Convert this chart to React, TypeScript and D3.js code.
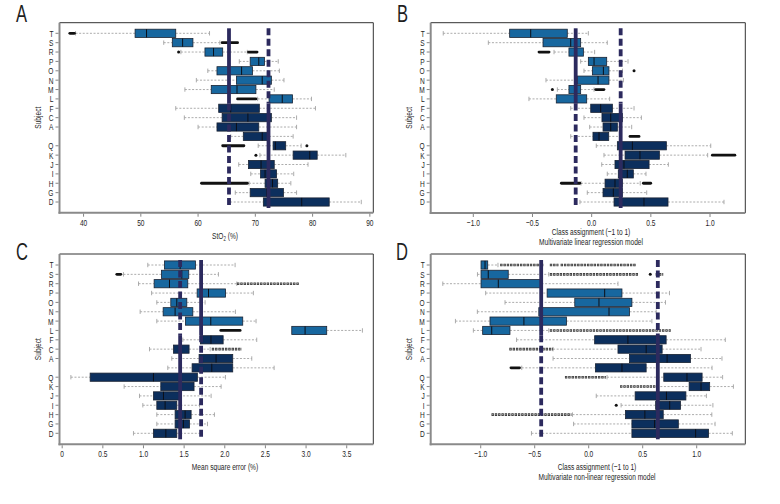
import React from "react";
import * as d3 from "d3";

// ---------- data ----------
const subjects = ["T", "S", "R", "P", "O", "N", "M", "L", "F", "C", "A", "", "Q", "K", "J", "I", "H", "G", "D"];
const LIGHT_ROWS = 8; // first 8 rows belong to the light group

type Stat = [number, number, number, number, number]; // lo, q1, median, q3, hi

const statsA: Stat[] = [
  [38.6, 49.0, 51.0, 56.1, 62.0],
  [54.0, 55.5, 57.3, 59.1, 63.8],
  [57.0, 61.2, 62.7, 64.3, 68.6],
  [67.2, 69.1, 70.6, 71.6, 74.0],
  [61.7, 63.3, 67.6, 69.5, 74.2],
  [59.7, 66.7, 71.2, 72.8, 75.0],
  [57.7, 62.3, 66.8, 70.1, 73.3],
  [70.4, 72.4, 74.7, 76.5, 79.8],
  [56.1, 63.6, 65.7, 70.7, 80.5],
  [57.6, 64.2, 68.7, 72.8, 77.2],
  [60.0, 63.3, 66.7, 70.6, 77.2],
  [65.7, 67.9, 71.2, 72.4, 76.6],
  [70.5, 73.1, 73.5, 75.3, 78.0],
  [70.8, 76.6, 79.5, 80.8, 85.8],
  [67.1, 68.8, 71.0, 73.3, 79.2],
  [69.2, 70.9, 71.7, 73.7, 76.7],
  [68.9, 71.7, 73.0, 73.9, 76.2],
  [66.5, 69.1, 72.0, 74.9, 77.2],
  [65.6, 71.4, 78.1, 82.9, 88.5],
];
const pointsA: [number, number][] = [[2, 56.6], [12, 79.0], [13, 70.1]];
const runsA: [number, number, number, number][] = [
  [0, 37.6, 38.4, 0], [1, 64.2, 66.9, 0], [2, 68.8, 70.3, 0], [7, 66.9, 70.1, 0],
  [12, 64.3, 68.0, 0], [16, 60.6, 68.6, 0],
];
const linesA = [65.4, 72.3];
const ticksA = [40, 50, 60, 70, 80, 90];

const statsB: Stat[] = [
  [-1.254, -0.693, -0.515, -0.206, -0.028],
  [-0.873, -0.411, -0.177, -0.093, 0.132],
  [-0.318, -0.192, -0.135, -0.07, 0.025],
  [-0.093, -0.028, 0.02, 0.127, 0.307],
  [-0.065, 0.006, 0.099, 0.146, 0.26],
  [-0.386, -0.121, 0.054, 0.146, 0.268],
  [-0.29, -0.192, -0.135, -0.093, 0.02],
  [-0.53, -0.299, -0.135, -0.042, 0.152],
  [-0.177, -0.008, 0.076, 0.175, 0.358],
  [-0.065, 0.087, 0.161, 0.259, 0.42],
  [-0.017, 0.096, 0.161, 0.217, 0.338],
  [-0.177, 0.011, 0.062, 0.144, 0.245],
  [0.039, 0.217, 0.344, 0.631, 1.006],
  [0.104, 0.282, 0.408, 0.572, 0.98],
  [0.085, 0.197, 0.273, 0.485, 0.648],
  [0.132, 0.225, 0.301, 0.352, 0.459],
  [-0.09, 0.113, 0.197, 0.259, 0.41],
  [-0.037, 0.096, 0.183, 0.259, 0.465],
  [-0.099, 0.189, 0.442, 0.645, 1.118],
];
const pointsB: [number, number][] = [[4, 0.358], [6, -0.332]];
const runsB: [number, number, number, number][] = [
  [2, -0.445, -0.36, 0], [6, 0.034, 0.104, 0], [11, 0.324, 0.4, 0], [13, 1.02, 1.21, 0],
  [16, -0.256, -0.1, 0], [16, 0.437, 0.499, 0],
];
const linesB = [-0.135, 0.245];
const ticksB = [-1, -0.5, 0, 0.5, 1];

const statsC: Stat[] = [
  [1.053, 1.258, 1.451, 1.639, 2.127],
  [0.754, 1.221, 1.471, 1.557, 1.922],
  [0.939, 1.131, 1.32, 1.545, 2.148],
  [1.1, 1.66, 1.8, 2.01, 2.352],
  [1.164, 1.336, 1.41, 1.533, 1.758],
  [0.959, 1.242, 1.389, 1.607, 2.131],
  [1.164, 1.516, 1.828, 2.221, 2.385],
  [2.824, 2.824, 2.988, 3.254, 3.693],
  [1.484, 1.7, 1.83, 1.98, 2.393],
  [1.074, 1.369, 1.45, 1.561, 1.82],
  [1.348, 1.684, 1.893, 2.098, 2.332],
  [1.299, 1.598, 1.84, 2.098, 2.607],
  [0.107, 0.344, 1.123, 1.663, 2.008],
  [0.762, 1.213, 1.45, 1.622, 1.955],
  [0.951, 1.123, 1.246, 1.443, 1.832],
  [0.992, 1.164, 1.266, 1.41, 1.689],
  [1.164, 1.389, 1.512, 1.586, 1.873],
  [1.164, 1.389, 1.492, 1.566, 1.787],
  [0.877, 1.123, 1.275, 1.41, 1.717],
];
const pointsC: [number, number][] = [];
const runsC: [number, number, number, number][] = [
  [1, 0.672, 0.721, 0], [2, 2.15, 2.914, 1], [7, 1.951, 2.189, 0], [9, 1.84, 2.209, 1],
];
const linesC = [1.709, 1.451];
const ticksC = [0, 0.5, 1, 1.5, 2, 2.5, 3, 3.5];

const statsD: Stat[] = [
  [-0.997, -0.997, -0.96, -0.935, -0.84],
  [-1.03, -0.997, -0.93, -0.745, -0.37],
  [-1.351, -0.997, -0.837, -0.437, 0.271],
  [-0.954, -0.385, 0.148, 0.308, 0.748],
  [-0.775, -0.129, 0.095, 0.4, 0.711],
  [-1.031, -0.462, 0.188, 0.378, 0.625],
  [-1.234, -0.914, -0.6, -0.206, 0.585],
  [-1.068, -0.982, -0.898, -0.729, -0.37],
  [-0.668, 0.055, 0.363, 0.717, 1.265],
  [-0.33, 0.271, 0.532, 0.68, 1.04],
  [-0.33, 0.378, 0.726, 0.942, 1.234],
  [-0.62, 0.062, 0.308, 0.532, 1.142],
  [0.17, 0.695, 0.91, 1.05, 1.24],
  [0.63, 0.93, 1.04, 1.12, 1.34],
  [0.07, 0.43, 0.72, 0.9, 1.09],
  [0.3, 0.62, 0.75, 0.85, 1.15],
  [-0.15, 0.34, 0.52, 0.69, 1.14],
  [-0.14, 0.4, 0.61, 0.83, 1.17],
  [-0.53, 0.4, 0.99, 1.11, 1.33],
];
const pointsD: [number, number][] = [[15, 0.255], [1, 0.57]];
const runsD: [number, number, number, number][] = [
  [0, -0.82, -0.42, 1], [0, -0.36, -0.28, 1], [0, -0.26, 0.44, 1],
  [1, -0.36, 0.46, 1], [1, 0.62, 0.69, 1], [7, -0.36, 0.76, 1],
  [9, -0.735, -0.33, 1], [11, -0.72, -0.64, 0], [12, -0.22, 0.16, 1],
  [13, 0.29, 0.62, 1], [16, -0.9, -0.16, 1],
];
const linesD = [-0.44, 0.64];
const ticksD = [-1, -0.5, 0, 0.5, 1];

// ---------- styles ----------
const FONT = "'Liberation Sans', Arial, sans-serif";
const SX = 0.68; // horizontal condensing of the label font
const FS = 9.7;
const LIGHT = "#17679f";
const DARK = "#0c2f5d";
const BOX_STROKE = "#1a2333";
const LINE = "#2c2a5e";
const WHISK = "#a3a3a3";

function Txt({ x, y, anchor = "start", size = FS, sx = SX, rotate = 0, children }: {
  x: number; y: number; anchor?: string; size?: number; sx?: number; rotate?: number; children: React.ReactNode;
}) {
  return (
    <text transform={`translate(${x},${y}) rotate(${rotate}) scale(${sx},1)`} textAnchor={anchor}
      fontFamily={FONT} fontSize={size} fill="#1e1e1e">{children}</text>
  );
}

interface PanelCfg {
  letter: string;
  letterX: number;
  letterY: number;
  stats: Stat[];
  points: [number, number][];
  runs: [number, number, number, number][];
  lines: number[];
  ticks: number[];
  fmt: (v: number) => string;
  domain: [number, number];
  fx0: number; fx1: number; fy0: number; fy1: number;
  ry0: number; ry1: number;
  titles: React.ReactNode[];
  titleX: number;
  titleY: number[];
}

function Panel({ c }: { c: PanelCfg }) {
  const x = d3.scaleLinear().domain(c.domain).range([c.fx0, c.fx1]);
  const y = d3.scaleLinear().domain([0, subjects.length - 1]).range([c.ry0, c.ry1]);
  const bh = 8.2;
  const split = (y(LIGHT_ROWS - 1) + y(LIGHT_ROWS)) / 2;
  const top = y(0) - 5;
  const bot = y(subjects.length - 1) + 6;
  return (
    <g>
      <Txt x={c.letterX} y={c.letterY} size={23} sx={0.72}>{c.letter}</Txt>
      {/* frame */}
      <line x1={c.fx0} x2={c.fx1} y1={c.fy0} y2={c.fy0} stroke="#333" strokeWidth={1} />
      <line x1={c.fx1} x2={c.fx1} y1={c.fy0} y2={c.fy1} stroke="#333" strokeWidth={1} />
      <line x1={c.fx0} x2={c.fx0} y1={c.fy0} y2={c.fy1 + 1} stroke="#8a8a8a" strokeWidth={2} />
      <line x1={c.fx0 - 1} x2={c.fx1} y1={c.fy1} y2={c.fy1} stroke="#8a8a8a" strokeWidth={2} />
      {/* y ticks */}
      {subjects.map((s, i) => s ? (
        <g key={"yt" + i}>
          <line x1={c.fx0 - 4} x2={c.fx0 - 1} y1={y(i)} y2={y(i)} stroke="#666" strokeWidth={0.8} />
          <Txt x={c.fx0 - 6} y={y(i) + 3.4} anchor="end">{s}</Txt>
        </g>
      ) : null)}
      <Txt x={c.fx0 - 19} y={(c.fy0 + c.fy1) / 2} anchor="middle" rotate={-90}>Subject</Txt>
      {/* x ticks */}
      {c.ticks.map((t) => (
        <g key={"xt" + t}>
          <line x1={x(t)} x2={x(t)} y1={c.fy1 + 1} y2={c.fy1 + 4} stroke="#666" strokeWidth={0.8} />
          <Txt x={x(t)} y={c.fy1 + 12.8} anchor="middle">{c.fmt(t)}</Txt>
        </g>
      ))}
      {c.titles.map((t, i) => (
        <Txt key={"ti" + i} x={c.titleX} y={c.titleY[i]} anchor="middle">{t}</Txt>
      ))}
      {/* whiskers + boxes */}
      {c.stats.map((s, i) => {
        const [lo, q1, md, q3, hi] = s;
        const yy = y(i);
        const fill = i < LIGHT_ROWS ? LIGHT : DARK;
        return (
          <g key={"b" + i}>
            {lo < q1 && <line x1={x(lo)} x2={x(q1)} y1={yy} y2={yy} stroke={WHISK} strokeWidth={0.9} strokeDasharray="2,1.6" />}
            {hi > q3 && <line x1={x(q3)} x2={x(hi)} y1={yy} y2={yy} stroke={WHISK} strokeWidth={0.9} strokeDasharray="2,1.6" />}
            {lo < q1 && <line x1={x(lo)} x2={x(lo)} y1={yy - 2.2} y2={yy + 2.2} stroke={WHISK} strokeWidth={0.9} />}
            {hi > q3 && <line x1={x(hi)} x2={x(hi)} y1={yy - 2.2} y2={yy + 2.2} stroke={WHISK} strokeWidth={0.9} />}
            <rect x={x(q1)} y={yy - bh / 2} width={Math.max(1, x(q3) - x(q1))} height={bh} fill={fill} stroke={BOX_STROKE} strokeWidth={0.8} />
            <line x1={x(md)} x2={x(md)} y1={yy - bh / 2} y2={yy + bh / 2} stroke="#0b0f18" strokeWidth={1} />
          </g>
        );
      })}
      {/* outliers */}
      {c.runs.map(([r, a, b, st], i) => st === 0 ? (
        <line key={"r" + i} x1={x(a)} x2={x(b)} y1={y(r)} y2={y(r)} stroke="#111" strokeWidth={2.8} strokeLinecap="round" />
      ) : (
        <g key={"r" + i}>
          <line x1={x(a)} x2={x(b)} y1={y(r)} y2={y(r)} stroke="#3a3a3a" strokeWidth={2.6} strokeDasharray="2.4,0.9" />
          <line x1={x(a)} x2={x(b)} y1={y(r)} y2={y(r)} stroke="#ddd" strokeWidth={0.7} strokeDasharray="1,2.3" strokeDashoffset={-0.7} />
        </g>
      ))}
      {c.points.map(([r, v], i) => (
        <circle key={"p" + i} cx={x(v)} cy={y(r)} r={1.5} fill="#111" />
      ))}
      {/* group centre lines */}
      <line x1={x(c.lines[0])} x2={x(c.lines[0])} y1={top} y2={split} stroke={LINE} strokeWidth={3.8} />
      <line x1={x(c.lines[0])} x2={x(c.lines[0])} y1={split} y2={bot} stroke={LINE} strokeWidth={3.8} strokeDasharray="7,3.5" />
      <line x1={x(c.lines[1])} x2={x(c.lines[1])} y1={top} y2={split} stroke={LINE} strokeWidth={3.8} strokeDasharray="7,3.5" />
      <line x1={x(c.lines[1])} x2={x(c.lines[1])} y1={split} y2={bot} stroke={LINE} strokeWidth={3.8} />
    </g>
  );
}

const fmtSigned = (v: number) => (v < 0 ? "\u2212" : "") + Math.abs(v).toFixed(1);
const fmtC = (v: number) => (v === 0 ? "0" : v.toFixed(1));

export default function App() {
  const panels: PanelCfg[] = [
    {
      letter: "A", letterX: 16, letterY: 22,
      stats: statsA, points: pointsA, runs: runsA, lines: linesA, ticks: ticksA, fmt: (v) => String(v),
      domain: [35.8, 90.6], fx0: 59.5, fx1: 373.3, fy0: 22.7, fy1: 212.7, ry0: 33.3, ry1: 202,
      titles: [<tspan key="a">StO<tspan fontSize={6.5} dy={2.5}>2</tspan><tspan dy={-2.5}> (%)</tspan></tspan>],
      titleX: 225, titleY: [238.5],
    },
    {
      letter: "B", letterX: 397, letterY: 22,
      stats: statsB, points: pointsB, runs: runsB, lines: linesB, ticks: ticksB, fmt: fmtSigned,
      domain: [-1.36, 1.298], fx0: 430.7, fx1: 745.3, fy0: 22.7, fy1: 213, ry0: 33.3, ry1: 202,
      titles: ["Class assignment (\u22121 to 1)", "Multivariate linear regression model"],
      titleX: 591, titleY: [234.5, 244.5],
    },
    {
      letter: "C", letterX: 16, letterY: 259.5,
      stats: statsC, points: pointsC, runs: runsC, lines: linesC, ticks: ticksC, fmt: fmtC,
      domain: [-0.033, 3.827], fx0: 59.5, fx1: 373.3, fy0: 254, fy1: 444.3, ry0: 265, ry1: 433.3,
      titles: ["Mean square error (%)"],
      titleX: 225, titleY: [469.5],
    },
    {
      letter: "D", letterX: 396, letterY: 259.5,
      stats: statsD, points: pointsD, runs: runsD, lines: linesD, ticks: ticksD, fmt: fmtSigned,
      domain: [-1.463, 1.45], fx0: 430.7, fx1: 745.3, fy0: 254, fy1: 444.3, ry0: 265, ry1: 433.3,
      titles: ["Class assignment (\u22121 to 1)", "Multivariate non-linear regression model"],
      titleX: 597, titleY: [469.5, 479.5],
    },
  ];
  return (
    <svg width={780} height={504} viewBox="0 0 780 504"
      style={{ position: "absolute", left: 0, top: 0, background: "#fff" }}>
      <rect width={780} height={504} fill="#fff" />
      {panels.map((p) => <Panel key={p.letter} c={p} />)}
    </svg>
  );
}
